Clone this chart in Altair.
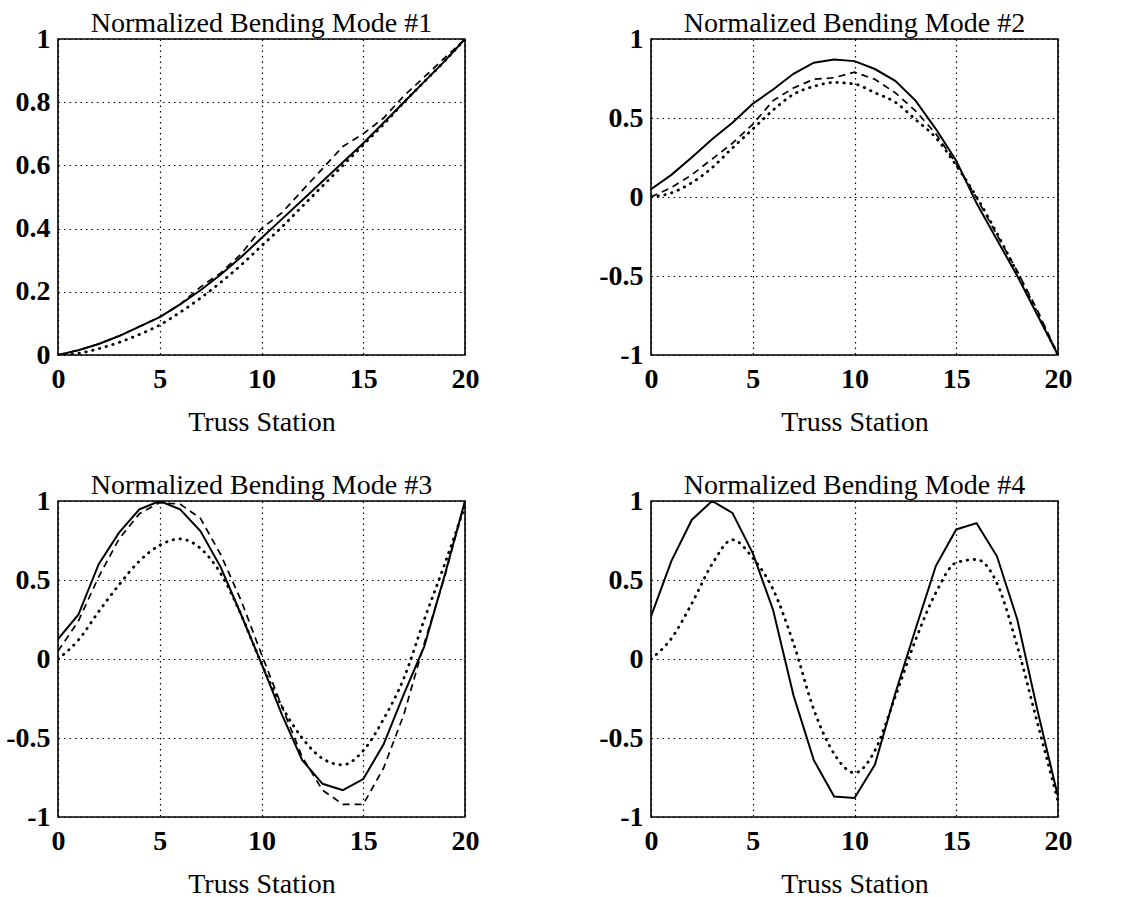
import altair as alt
import pandas as pd

STATIONS = list(range(21))

TITLES = [
    "Normalized Bending Mode #1",
    "Normalized Bending Mode #2",
    "Normalized Bending Mode #3",
    "Normalized Bending Mode #4",
]
X_TITLE = "Truss Station"
X_TICKS = [0, 5, 10, 15, 20]
Y_TICKS_MODE1 = [0, 0.2, 0.4, 0.6, 0.8, 1]
Y_TICKS_OTHER = [-1, -0.5, 0, 0.5, 1]

# Mode 1
M1_SOLID = [0, 0.015, 0.035, 0.06, 0.09, 0.12, 0.16, 0.205, 0.255, 0.31, 0.37,
            0.43, 0.49, 0.55, 0.61, 0.67, 0.735, 0.80, 0.865, 0.93, 1.0]
M1_DASHED = [0, 0.015, 0.035, 0.06, 0.09, 0.12, 0.16, 0.215, 0.26, 0.32, 0.40,
             0.45, 0.52, 0.59, 0.66, 0.70, 0.75, 0.82, 0.88, 0.94, 1.0]
M1_DOTTED = [0, 0.005, 0.02, 0.04, 0.065, 0.095, 0.135, 0.18, 0.23, 0.285, 0.345,
             0.405, 0.47, 0.535, 0.60, 0.665, 0.73, 0.80, 0.865, 0.93, 1.0]

# Mode 2
M2_SOLID = [0.05, 0.14, 0.25, 0.365, 0.47, 0.59, 0.68, 0.78, 0.85, 0.87, 0.86,
            0.81, 0.735, 0.61, 0.43, 0.23, -0.04, -0.27, -0.5, -0.75, -1.0]
M2_DASHED = [0.0, 0.06, 0.14, 0.24, 0.34, 0.46, 0.61, 0.69, 0.745, 0.755, 0.79,
             0.745, 0.66, 0.545, 0.40, 0.21, -0.005, -0.24, -0.47, -0.72, -1.0]
M2_DOTTED = [0.0, 0.026, 0.09, 0.185, 0.31, 0.43, 0.55, 0.65, 0.70, 0.725, 0.715,
             0.66, 0.60, 0.49, 0.375, 0.2, 0.0, -0.23, -0.48, -0.74, -1.0]

# Mode 3
M3_SOLID = [0.126, 0.28, 0.6, 0.8, 0.947, 1.0, 0.947, 0.81, 0.58, 0.28, -0.03,
            -0.35, -0.64, -0.79, -0.83, -0.76, -0.54, -0.22, 0.08, 0.53, 1.0]
M3_DASHED = [0.05, 0.24, 0.52, 0.76, 0.92, 0.99, 0.98, 0.89, 0.66, 0.37, 0.03,
             -0.3, -0.62, -0.83, -0.92, -0.92, -0.69, -0.35, 0.1, 0.52, 1.0]
M3_DOTTED = [0.0, 0.12, 0.3, 0.47, 0.62, 0.72, 0.76, 0.70, 0.54, 0.28, -0.03,
             -0.3, -0.5, -0.63, -0.67, -0.58, -0.38, -0.12, 0.25, 0.6, 0.97]

# Mode 4
M4_SOLID = [0.27, 0.62, 0.88, 1.0, 0.925, 0.67, 0.31, -0.23, -0.64, -0.87, -0.88,
            -0.67, -0.22, 0.19, 0.59, 0.82, 0.86, 0.65, 0.25, -0.33, -0.87]
M4_DOTTED = [0.0, 0.13, 0.35, 0.6, 0.755, 0.64, 0.44, 0.1, -0.32, -0.6, -0.72,
             -0.58, -0.24, 0.12, 0.42, 0.61, 0.63, 0.48, 0.08, -0.41, -0.9]

FONT = "Liberation Serif"
PLOT_W = 407
PLOT_H = 316


def panel(title, solid, dashed, dotted, y_domain, y_ticks):
    rows = []
    for name, vals in (("solid", solid), ("dashed", dashed), ("dotted", dotted)):
        if vals is None:
            continue
        for xv, yv in zip(STATIONS, vals):
            rows.append({"station": xv, "value": yv, "series": name})
    df = pd.DataFrame(rows)

    x_enc = alt.X(
        "station:Q",
        scale=alt.Scale(domain=[0, 20], nice=False, zero=False),
        axis=alt.Axis(values=X_TICKS, title=X_TITLE, labelExpr="'' + datum.value"),
    )
    y_enc = alt.Y(
        "value:Q",
        scale=alt.Scale(domain=y_domain, nice=False, zero=False),
        axis=alt.Axis(values=y_ticks, title=None, labelExpr="'' + datum.value"),
    )
    base = alt.Chart(df).encode(x=x_enc, y=y_enc)
    layers = []
    layers.append(
        base.transform_filter(alt.datum.series == "solid").mark_line(
            color="black", strokeWidth=2, clip=True
        )
    )
    if dashed is not None:
        layers.append(
            base.transform_filter(alt.datum.series == "dashed").mark_line(
                color="black", strokeWidth=1.7, strokeDash=[7, 5], clip=True
            )
        )
    layers.append(
        base.transform_filter(alt.datum.series == "dotted").mark_line(
            color="black", strokeWidth=2.8, strokeDash=[0.5, 6.5], strokeCap="round",
            interpolate="monotone", clip=True
        )
    )
    return alt.layer(*layers).properties(
        width=PLOT_W,
        height=PLOT_H,
        title=alt.TitleParams(
            text=title, font=FONT, fontSize=28, fontWeight="normal",
            color="black", anchor="middle", offset=0, dy=13,
        ),
    )


p1 = panel(TITLES[0], M1_SOLID, M1_DASHED, M1_DOTTED, [0, 1], Y_TICKS_MODE1)
p2 = panel(TITLES[1], M2_SOLID, M2_DASHED, M2_DOTTED, [-1, 1], Y_TICKS_OTHER)
p3 = panel(TITLES[2], M3_SOLID, M3_DASHED, M3_DOTTED, [-1, 1], Y_TICKS_OTHER)
p4 = panel(TITLES[3], M4_SOLID, None, M4_DOTTED, [-1, 1], Y_TICKS_OTHER)

chart = (
    alt.concat(p1, p2, p3, p4, columns=2, spacing={"row": 34, "column": 117})
    .properties(padding={"left": 4, "top": 9, "right": 10, "bottom": 0}, background="white")
    .configure_view(stroke="black", strokeWidth=1.6)
    .configure_axis(
        domain=False,
        ticks=False,
        grid=True,
        gridColor="black",
        gridDash=[1.5, 4],
        gridWidth=1.2,
        gridOpacity=1,
        labelFont=FONT,
        labelFontSize=28,
        labelFontWeight="bold",
        labelColor="black",
        labelFlush=False,
        labelOverlap=False,
        titleFont=FONT,
        titleFontSize=28,
        titleFontWeight="normal",
        titleColor="black",
    )
    .configure_axisX(labelPadding=10, titlePadding=15)
    .configure_axisY(labelPadding=8)
)

chart.save("out.html", embed_options={"renderer": "svg", "actions": False})
